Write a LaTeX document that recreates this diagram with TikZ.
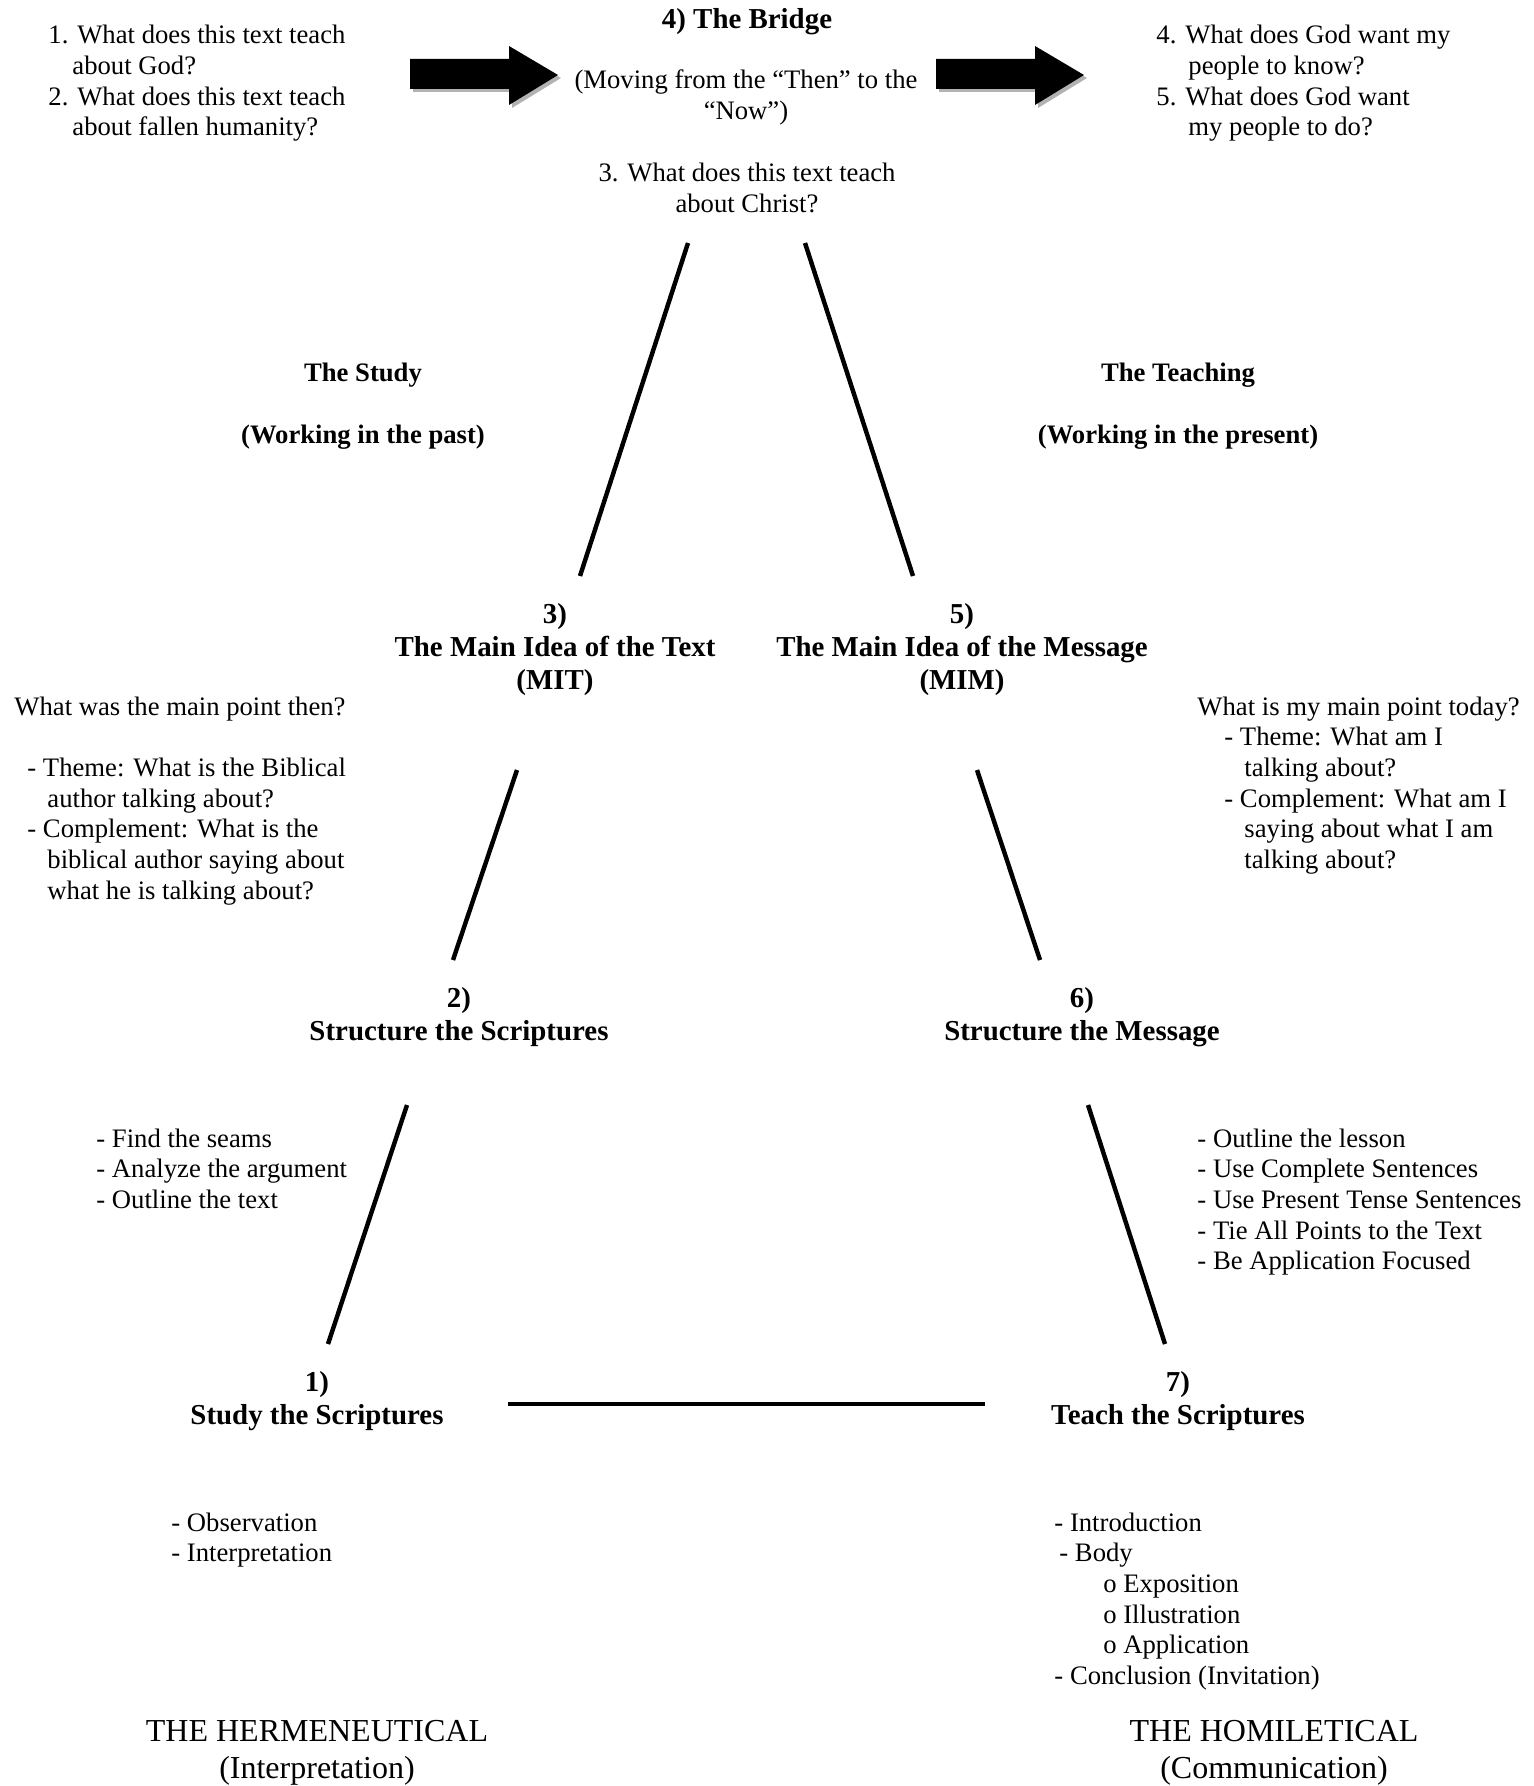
\documentclass[tikz,border=0pt]{standalone}
\usepackage{fontspec}
\setmainfont{Liberation Serif}
\newcommand\blkL[1]{\begin{tabular}[t]{@{}l@{}}#1\end{tabular}}
\newcommand\blkC[1]{\begin{tabular}[t]{@{}c@{}}#1\end{tabular}}
\tikzset{
  txt/.style={inner sep=0pt, anchor=base west, font=\fontsize{12}{13.8}\selectfont},
  txtc/.style={inner sep=0pt, anchor=base, font=\fontsize{12}{13.8}\selectfont},
  hd/.style={inner sep=0pt, anchor=base, font=\fontsize{13}{15}\selectfont\bfseries},
  hds/.style={inner sep=0pt, anchor=base, font=\fontsize{12}{13.8}\selectfont\bfseries},
  capt/.style={inner sep=0pt, anchor=base, font=\fontsize{14.4}{16.9}\selectfont},
  seg/.style={line width=2pt},
  bigarrow/.style={fill=black},
  arrowshadow/.style={fill=black!30},
}
\begin{document}
\begin{tikzpicture}[x=0.45pt, y=-0.45pt]
\useasboundingbox (0,0) rectangle (1533,1786);

% ---- top row ----
\node[txt] (q12) at (48,44) {\blkL{1. What does this text teach\\
\hspace*{10.8pt}about God?\\
2. What does this text teach\\
\hspace*{10.8pt}about fallen humanity?}};

\node[hd] (bridge) at (747,29) {4) The Bridge};
\node[txtc] (moving) at (746,89) {\blkC{(Moving from the “Then” to the\\“Now”)}};
\node[txtc] (q3) at (747,182) {\blkC{3. What does this text teach\\about Christ?}};

\node[txt] (q45) at (1156,44) {\blkL{4. What does God want my\\
\hspace*{14.4pt}people to know?\\
5. What does God want\\
\hspace*{14.4pt}my people to do?}};

% big arrows
\foreach \x in {410,936}{
  \fill[arrowshadow] (\x+3,62) -- (\x+102,62) -- (\x+102,49) -- (\x+151,78) -- (\x+102,108) -- (\x+102,92) -- (\x+3,92) -- cycle;
  \fill[bigarrow] (\x,59) -- (\x+99,59) -- (\x+99,46) -- (\x+148,75) -- (\x+99,105) -- (\x+99,89) -- (\x,89) -- cycle;
}

% ---- study / teaching ----
\node[hds] (study) at (363,381) {The Study};
\node[hds] (studyp) at (363,443) {(Working in the past)};
\node[hds] (teach) at (1178,381) {The Teaching};
\node[hds] (teachp) at (1178,443) {(Working in the present)};

% ---- main ideas ----
\node[hd] (mit) at (555,623) {\blkC{3)\\The Main Idea of the Text\\(MIT)}};
\node[hd] (mim) at (962,623) {\blkC{5)\\The Main Idea of the Message\\(MIM)}};

\node[txt] (then) at (14,715) {\blkL{What was the main point then?\\
\\
\hspace*{5.85pt}- Theme: What is the Biblical\\
\hspace*{14.85pt}author talking about?\\
\hspace*{5.85pt}- Complement: What is the\\
\hspace*{14.85pt}biblical author saying about\\
\hspace*{14.85pt}what he is talking about?}};

\node[txt] (today) at (1197,715) {\blkL{What is my main point today?\\
\hspace*{12.15pt}- Theme: What am I\\
\hspace*{21.15pt}talking about?\\
\hspace*{12.15pt}- Complement: What am I\\
\hspace*{21.15pt}saying about what I am\\
\hspace*{21.15pt}talking about?}};

% ---- structure ----
\node[hd] (sts) at (459,1007) {\blkC{2)\\Structure the Scriptures}};
\node[hd] (stm) at (1082,1007) {\blkC{6)\\Structure the Message}};

\node[txt] (seams) at (96,1147) {\blkL{- Find the seams\\- Analyze the argument\\- Outline the text}};
\node[txt] (lesson) at (1197,1147) {\blkL{- Outline the lesson\\- Use Complete Sentences\\- Use Present Tense Sentences\\- Tie All Points to the Text\\- Be Application Focused}};

% ---- bottom ----
\node[hd] (studys) at (317,1391) {\blkC{1)\\Study the Scriptures}};
\node[hd] (teachs) at (1178,1391) {\blkC{7)\\Teach the Scriptures}};

\node[txt] (obs) at (171,1531) {\blkL{- Observation\\- Interpretation}};
\node[txt] (intro) at (1054,1531) {\blkL{- Introduction\\
\hspace*{2.25pt}- Body\\
\hspace*{22pt}o Exposition\\
\hspace*{22pt}o Illustration\\
\hspace*{22pt}o Application\\
- Conclusion (Invitation)}};

\node[capt] (herm) at (317,1741) {\blkC{THE HERMENEUTICAL\\(Interpretation)}};
\node[capt] (homi) at (1274,1741) {\blkC{THE HOMILETICAL\\(Communication)}};

% ---- connector end points ----
\coordinate (a1) at (688,243);  \coordinate (a2) at (580,576);
\coordinate (b1) at (805,243);  \coordinate (b2) at (913,576);
\coordinate (c1) at (517,770);  \coordinate (c2) at (453,960);
\coordinate (d1) at (977,770);  \coordinate (d2) at (1040,960);
\coordinate (e1) at (407,1105); \coordinate (e2) at (328,1344);
\coordinate (f1) at (1088,1105);\coordinate (f2) at (1165,1344);
\coordinate (g1) at (508,1404); \coordinate (g2) at (985,1404);

\draw[seg] (a1) -- (a2);
\draw[seg] (b1) -- (b2);
\draw[seg] (c1) -- (c2);
\draw[seg] (d1) -- (d2);
\draw[seg] (e1) -- (e2);
\draw[seg] (f1) -- (f2);
\draw[seg] (g1) -- (g2);
\end{tikzpicture}
\end{document}
